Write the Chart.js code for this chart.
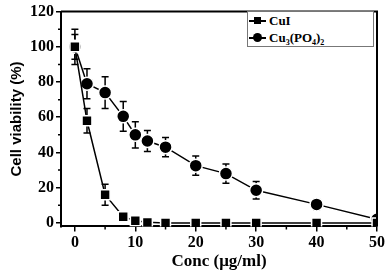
<!DOCTYPE html>
<html>
<head>
<meta charset="utf-8">
<script src="https://cdn.jsdelivr.net/npm/chart.js@4/dist/chart.umd.min.js"></script>
<style>
  body { margin: 0; background: #fff; }
  #wrap { position: relative; width: 391px; height: 270px; }
  #legend {
    position: absolute; left: 247px; top: 11px; width: 127px; height: 36px;
    border: 1px solid #777; background: #fff; box-sizing: border-box;
    font: bold 13px "Liberation Serif", serif; color: #000;
  }
  .row { position: absolute; left: 0; height: 17px; line-height: 17px; white-space: nowrap; }
  .sample { position: relative; display: inline-block; vertical-align: top; width: 17px; height: 17px; margin: 0 3px 0 1px; }
  .sample .ln { position: absolute; left: 0; right: 0; top: 8px; height: 1.5px; background: #000; }
  .sample .sq { position: absolute; left: 5px; top: 5px; width: 7px; height: 7px; background: #000; }
  .sample .ci { position: absolute; left: 4px; top: 4px; width: 9px; height: 9px; border-radius: 50%; background: #000; }
  .sb { font-size: 8px; position: relative; top: 3px; }
</style>
</head>
<body>
<div id="wrap">
  <canvas id="chart" width="391" height="270"></canvas>
  <div id="legend">
    <div class="row" style="top:0px"><span class="sample"><span class="ln"></span><span class="sq"></span></span>CuI</div>
    <div class="row" style="top:17px"><span class="sample"><span class="ln"></span><span class="ci"></span></span>Cu<span class="sb">3</span>(PO<span class="sb">4</span>)<span class="sb">2</span></div>
  </div>
</div>
<script>
// data
let conc = [0, 2, 5, 8, 10, 12, 15, 20, 25, 30, 40, 50];
let cuiVals = [100, 58, 16, 3.5, 1.2, 0.3, 0, 0, 0, 0, 0, 0];
let cuiErr = [7, 7, 6, 1, 0.5, 0, 0, 0, 0, 0, 0, 0];
let cu3Vals = [100, 79, 74, 60.5, 50, 46.5, 43, 32.5, 28, 18.5, 10.5, 2];
let cu3Err = [10, 8.5, 9, 8.5, 7.5, 6, 5.5, 5.5, 5.5, 5, 3, 0];
let xTicks = [0, 10, 20, 30, 40, 50];
let yTicks = [0, 20, 40, 60, 80, 100, 120];
let xMinor = [5, 15, 25, 35, 45];
let yMinor = [10, 30, 50, 70, 90, 110];

let tickFont = { family: "Liberation Serif", weight: "bold", size: 16 };

function toPoints(vals) {
  return conc.map((c, i) => ({ x: c, y: vals[i] }));
}

// error bars, drawn under the markers
let errorBars = {
  id: 'errorBars',
  beforeDatasetsDraw(chart) {
    let ctx = chart.ctx;
    let y = chart.scales.y;
    let errs = [cuiErr, cu3Err];
    ctx.save();
    ctx.strokeStyle = '#000';
    ctx.lineWidth = 1.5;
    chart.data.datasets.forEach((ds, i) => {
      let meta = chart.getDatasetMeta(i);
      meta.data.forEach((pt, j) => {
        let e = errs[i][j];
        if (!e) return;
        let top = y.getPixelForValue(ds.data[j].y + e);
        let bot = y.getPixelForValue(ds.data[j].y - e);
        ctx.beginPath();
        ctx.moveTo(pt.x, top); ctx.lineTo(pt.x, bot);
        ctx.moveTo(pt.x - 3.5, top); ctx.lineTo(pt.x + 3.5, top);
        ctx.moveTo(pt.x - 3.5, bot); ctx.lineTo(pt.x + 3.5, bot);
        ctx.stroke();
      });
    });
    ctx.restore();
  }
};

// top/right frame and minor ticks
let frame = {
  id: 'frame',
  afterDraw(chart) {
    let ctx = chart.ctx;
    let a = chart.chartArea;
    let xs = chart.scales.x, ys = chart.scales.y;
    ctx.save();
    ctx.strokeStyle = '#000';
    ctx.lineWidth = 2;
    ctx.beginPath();
    ctx.moveTo(a.left, a.top); ctx.lineTo(a.right, a.top); ctx.lineTo(a.right, a.bottom);
    ctx.stroke();
    ctx.lineWidth = 1.5;
    ctx.beginPath();
    xMinor.forEach(v => {
      let px = xs.getPixelForValue(v);
      ctx.moveTo(px, a.bottom); ctx.lineTo(px, a.bottom + 3);
    });
    yMinor.forEach(v => {
      let py = ys.getPixelForValue(v);
      ctx.moveTo(a.left, py); ctx.lineTo(a.left - 3, py);
    });
    ctx.stroke();
    ctx.restore();
  }
};

new Chart(document.getElementById('chart'), {
  type: 'line',
  data: {
    datasets: [
      {
        label: 'CuI',
        data: toPoints(cuiVals),
        borderColor: '#000',
        borderWidth: 1.5,
        backgroundColor: '#000',
        pointStyle: 'rect',
        pointRadius: 7,
        pointBorderColor: '#fff',
        pointBorderWidth: 1.5,
        tension: 0
      },
      {
        label: 'Cu3(PO4)2',
        data: toPoints(cu3Vals),
        borderColor: '#000',
        borderWidth: 1.5,
        backgroundColor: '#000',
        pointStyle: 'circle',
        pointRadius: 6.5,
        pointBorderColor: '#fff',
        pointBorderWidth: 1.5,
        tension: 0
      }
    ]
  },
  options: {
    responsive: false,
    animation: false,
    layout: { padding: { left: 4, right: 14, top: 4, bottom: -6 } },
    plugins: { legend: { display: false }, tooltip: { enabled: false } },
    scales: {
      x: {
        type: 'linear',
        min: -2.3,
        max: 50,
        afterBuildTicks: s => { s.ticks = xTicks.map(v => ({ value: v })); },
        ticks: { color: '#000', font: tickFont, padding: 2, maxRotation: 0 },
        grid: { drawOnChartArea: false, drawTicks: true, tickLength: 5, color: '#000', lineWidth: 1.5 },
        border: { color: '#000', width: 2 },
        title: {
          display: true, text: 'Conc (\u03bcg/ml)', color: '#000',
          font: { family: "Liberation Serif", weight: "bold", size: 17 }, padding: { top: -3 }
        }
      },
      y: {
        min: -2,
        max: 120,
        afterBuildTicks: s => { s.ticks = yTicks.map(v => ({ value: v })); },
        ticks: { color: '#000', font: tickFont, padding: 2 },
        grid: { drawOnChartArea: false, drawTicks: true, tickLength: 5, color: '#000', lineWidth: 1.5 },
        border: { color: '#000', width: 2 },
        title: {
          display: true, text: 'Cell viability (%)', color: '#000',
          font: { family: "Liberation Sans", weight: "bold", size: 15 }, padding: { bottom: 2 }
        }
      }
    }
  },
  plugins: [errorBars, frame]
});
</script>
</body>
</html>
